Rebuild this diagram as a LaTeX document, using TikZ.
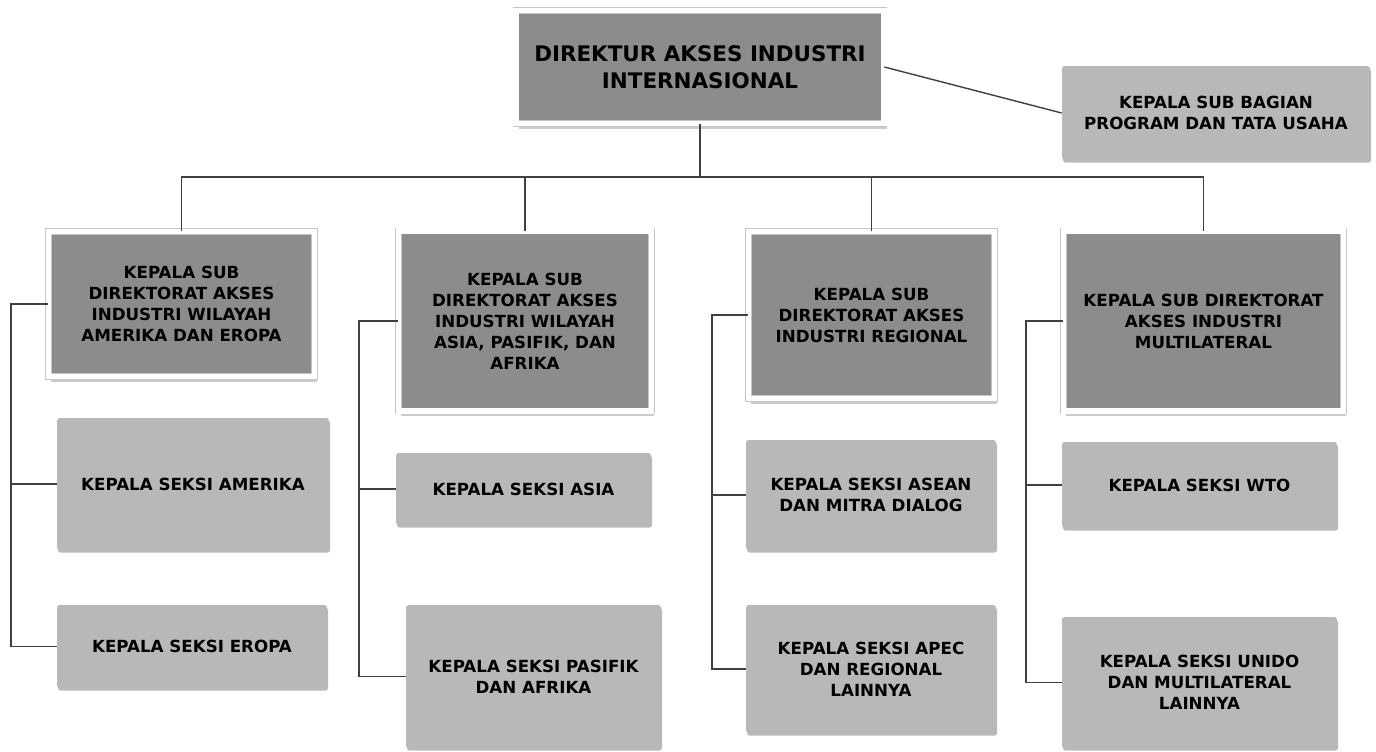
\documentclass[tikz,border=0pt]{standalone}
\usepackage{fontspec}
\setmainfont{DejaVu Sans}
\usepackage{tikz}
\usetikzlibrary{positioning,shadows,calc}

\begin{document}
\begin{tikzpicture}[
    x=0.02cm, y=-0.02cm,
    font=\bfseries\fontsize{9.5}{12}\selectfont,
    framed/.style={
        rectangle,
        draw=gray!45,
        double=white,
        double distance=3pt,
        fill=black!45,
        align=center,
        drop shadow={shadow xshift=1.5pt, shadow yshift=-3pt, opacity=0.4}
    },
    topbox/.style={framed, font=\bfseries\fontsize{12.2}{15.5}\selectfont},
    subbox/.style={framed},
    seksibox/.style={
        rectangle,
        rounded corners=1.5pt,
        fill=black!28,
        align=center,
        drop shadow={shadow xshift=0.6pt, shadow yshift=-1.5pt, opacity=0.55}
    },
    link/.style={draw=black!75, line width=0.8pt}
]
\useasboundingbox (0,0) rectangle (1376,751);

% ---------------------------------------------------------------- Top
\node[topbox, minimum width=7.36cm, minimum height=2.26cm] (dir) at (700,67)
    {DIREKTUR AKSES INDUSTRI\\INTERNASIONAL};
\node[seksibox, minimum width=6.16cm, minimum height=1.88cm] (sbag) at (1216,113)
    {KEPALA SUB BAGIAN\\PROGRAM DAN TATA USAHA};

% ---------------------------------------------------------------- Sub directorates
\node[subbox, minimum width=5.32cm, minimum height=2.9cm]  (sub1) at (181.5,304)
    {KEPALA SUB\\DIREKTORAT AKSES\\INDUSTRI WILAYAH\\AMERIKA DAN EROPA};
\node[subbox, minimum width=5.06cm, minimum height=3.6cm]  (sub2) at (525,321)
    {KEPALA SUB\\DIREKTORAT AKSES\\INDUSTRI WILAYAH\\ASIA, PASIFIK, DAN\\AFRIKA};
\node[subbox, minimum width=4.92cm, minimum height=3.34cm] (sub3) at (871.5,315)
    {KEPALA SUB\\DIREKTORAT AKSES\\INDUSTRI REGIONAL};
\node[subbox, minimum width=5.6cm, minimum height=3.6cm]   (sub4) at (1203.5,321)
    {KEPALA SUB DIREKTORAT\\AKSES INDUSTRI\\MULTILATERAL};

% ---------------------------------------------------------------- Sections
\node[seksibox, minimum width=5.44cm, minimum height=2.64cm] (amer)  at (193,484)    {KEPALA SEKSI AMERIKA};
\node[seksibox, minimum width=5.4cm,  minimum height=1.66cm] (eropa) at (192,646.5)  {KEPALA SEKSI EROPA};
\node[seksibox, minimum width=5.1cm,  minimum height=1.44cm] (asia)  at (523.5,489)  {KEPALA SEKSI ASIA};
\node[seksibox, minimum width=5.1cm,  minimum height=2.86cm] (pasif) at (533.5,676.5) {KEPALA SEKSI PASIFIK\\DAN AFRIKA};
\node[seksibox, minimum width=5.0cm,  minimum height=2.2cm]  (asean) at (871,495)    {KEPALA SEKSI ASEAN\\DAN MITRA DIALOG};
\node[seksibox, minimum width=5.0cm,  minimum height=2.56cm] (apec)  at (871,669)    {KEPALA SEKSI APEC\\DAN REGIONAL\\LAINNYA};
\node[seksibox, minimum width=5.5cm,  minimum height=1.72cm] (wto)   at (1199.5,485) {KEPALA SEKSI WTO};
\node[seksibox, minimum width=5.5cm,  minimum height=2.62cm] (unido) at (1199.5,682.5) {KEPALA SEKSI UNIDO\\DAN MULTILATERAL\\LAINNYA};

% ---------------------------------------------------------------- Connections
\coordinate (bus) at (700,177);
\draw[link] (dir.east) -- (sbag.west);
\draw[link] (dir.south) -- (bus);
\draw[link] (sub1.north) |- (bus) -| (sub4.north);
\draw[link] (sub2.north) -- (sub2.north |- bus);
\draw[link] (sub3.north) -- (sub3.north |- bus);

% left-hand buses
\coordinate (b1) at (11,0);
\coordinate (b2) at (359,0);
\coordinate (b3) at (712,0);
\coordinate (b4) at (1026,0);
\draw[link] (sub1.west) -- (sub1.west -| b1) |- (eropa.west);
\draw[link] (amer.west) -- (amer.west -| b1);
\draw[link] (sub2.west) -- (sub2.west -| b2) |- (pasif.west);
\draw[link] (asia.west) -- (asia.west -| b2);
\draw[link] (sub3.west) -- (sub3.west -| b3) |- (apec.west);
\draw[link] (asean.west) -- (asean.west -| b3);
\draw[link] (sub4.west) -- (sub4.west -| b4) |- (unido.west);
\draw[link] (wto.west) -- (wto.west -| b4);

\end{tikzpicture}
\end{document}
